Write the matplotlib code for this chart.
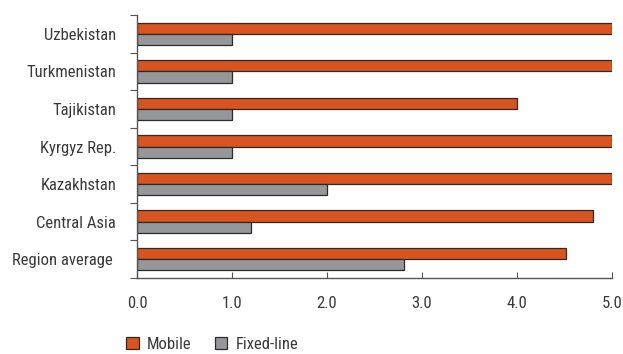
import matplotlib
matplotlib.use("Agg")
import matplotlib.pyplot as plt
from matplotlib.patches import Patch
import numpy as np

categories = ["Uzbekistan", "Turkmenistan", "Tajikistan", "Kyrgyz Rep.",
              "Kazakhstan", "Central Asia", "Region average "]
mobile = [5.0, 5.0, 4.0, 5.0, 5.0, 4.8, 4.52]
fixed_line = [1.0, 1.0, 1.0, 1.0, 2.0, 1.2, 2.81]
xticks = [0, 1, 2, 3, 4, 5]

plt.rcParams["font.family"] = ["Roboto Condensed", "DejaVu Sans"]

text_color = "#3a3a3a"
orange = "#D9541E"
grey = "#96979B"
edge = "#2b2b2b"
axis_color = "#555555"
fs = 12

fig = plt.figure(figsize=(6.23, 3.54), dpi=100)
ax = fig.add_axes([137 / 623, 1 - 278 / 354, (612 - 137) / 623, (278 - 15) / 354])

y = np.arange(len(categories))
h = 0.3
ax.barh(y - h / 2, mobile, height=h, color=orange, edgecolor=edge, linewidth=0.9)
ax.barh(y + h / 2, fixed_line, height=h, color=grey, edgecolor=edge, linewidth=0.9)

ax.set_xlim(0, 5)
ax.set_ylim(len(categories) - 0.5, -0.5)

for s in ["top", "right"]:
    ax.spines[s].set_visible(False)
for s in ["left", "bottom"]:
    ax.spines[s].set_color(axis_color)
    ax.spines[s].set_linewidth(1.0)

ax.set_xticks(xticks)
ax.set_xticklabels([f"{v:.1f}" for v in xticks], fontsize=fs, color=text_color)
ax.tick_params(axis="x", direction="in", length=4, color=axis_color, pad=13)

# category boundaries carry the tick marks, labels sit between them
ax.set_yticks(np.arange(-0.5, len(categories), 1.0))
ax.set_yticklabels([])
ax.set_yticks(y, minor=True)
ax.set_yticklabels(categories, minor=True, fontsize=fs, color=text_color)
ax.tick_params(axis="y", which="major", direction="out", length=5, color=axis_color)
ax.tick_params(axis="y", which="minor", length=0, pad=15)

handles = [Patch(facecolor=orange, edgecolor=edge, linewidth=0.9, label="Mobile"),
           Patch(facecolor=grey, edgecolor=edge, linewidth=0.9, label="Fixed-line")]
fig.legend(handles=handles, loc="lower left", bbox_to_anchor=(111 / 623, -0.036),
           ncol=2, frameon=False, fontsize=fs, handlelength=0.75, handleheight=0.75,
           handletextpad=0.5, columnspacing=1.4, labelcolor=text_color)

fig.savefig("out.png", dpi=100)
